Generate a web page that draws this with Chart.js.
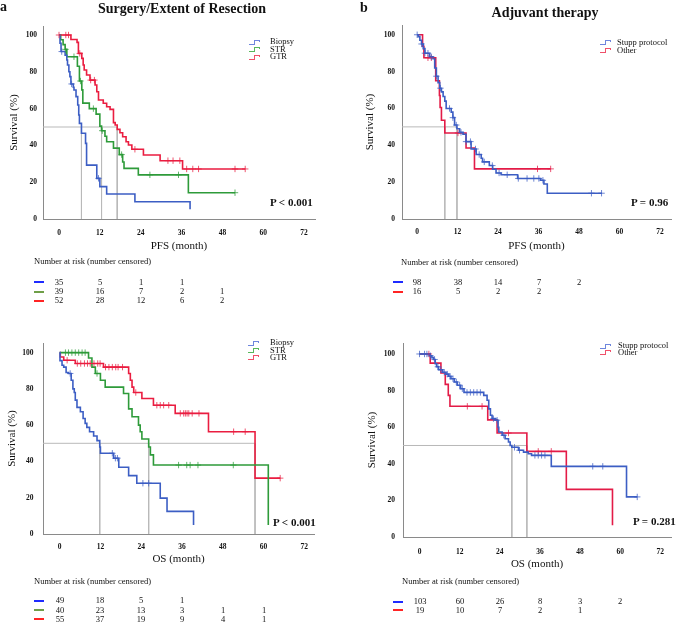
<!DOCTYPE html>
<html><head><meta charset="utf-8">
<script src="https://cdn.jsdelivr.net/npm/chart.js@4.4.1/dist/chart.umd.min.js"></script>
<style>
html,body{margin:0;padding:0;background:#fff;}
#wrap{position:relative;width:676px;height:622px;overflow:hidden;font-family:'Liberation Serif','Times New Roman',serif;color:#111;background:#fff;}
canvas{position:absolute;}
.t{position:absolute;white-space:nowrap;line-height:1;will-change:transform;-webkit-font-smoothing:antialiased;}
.seg{position:absolute;}
</style></head><body><div id="wrap"></div>
<script>
// ---------------- DATA ----------------
const xTicks = [0, 12, 24, 36, 48, 60, 72];
const yTicks = [0, 20, 40, 60, 80, 100];
const riskTimes = [0, 12, 24, 36, 48, 60];

// Panel a: PFS by extent of resection  [month, survival %]
const pfsBiopsy = [[0,100],[0.3,95.5],[0.6,91],[1.8,89],[2.3,86.4],[2.5,83.7],[2.9,80],[3.2,77.4],[3.5,73.4],[4.2,71.6],[4.4,70.1],[5.0,66.5],[5.5,62],[5.8,56.5],[6.0,52],[6.6,46.6],[7.8,41.1],[8.1,29.3],[11.1,22.1],[12.0,17.6],[14.0,13.6],[22.3,9.4],[38.5,5.3]];
const pfsBiopsyCensor = [0.8, 3.7, 11.6];
const pfsSTR = [[0,100],[0.5,97.4],[1.2,94.8],[1.8,92.2],[2.3,88.2],[5.4,83],[6.0,75],[6.7,70.2],[7.0,63],[8.9,60],[10.9,57],[12.0,50.5],[12.5,48],[13.5,45],[14.0,42],[16.0,38.5],[17.7,35],[18.7,31],[19.1,27.5],[23.3,24],[38.0,14.3],[51.7,14.3]];
const pfsSTRCensor = [1.9, 4.4, 6.3, 10.1, 12.7, 18.4, 26.7, 35.1, 51.7];
const pfsGTR = [[0,100],[3.5,97.6],[5.3,96],[5.7,90],[6.7,87.3],[7.1,83.7],[7.4,81],[8.1,78.3],[9.1,75.5],[10.6,72.8],[11.1,69.2],[11.6,64.7],[13.0,62.9],[14.0,61],[15.0,59.6],[16.0,52.4],[16.5,51.1],[17.1,48.7],[17.9,46.9],[18.7,44.7],[19.7,42],[20.4,40.2],[21.4,37.9],[24.8,34.8],[29.7,31.7],[36.3,27.2],[54.7,27.2]];
const pfsGTRCensor = [0, 2.0, 2.8, 6.1, 9.3, 10.4, 22.3, 32, 33.5, 35.5, 37.5, 39.3, 41, 51.7, 54.7];
const pfsSurgMedians = [6.6, 12.5, 17.1];
const pfsSurgRisk = [[35,5,1,1],[39,16,7,2,1],[52,28,12,6,2]];

// Panel b: PFS by adjuvant therapy
const pfsStupp = [[0,100],[0.3,99],[0.8,97],[1.3,95],[1.8,92.5],[2.3,90],[3.7,88],[4.7,87],[5.2,82],[5.7,77.5],[6.2,74],[6.7,71],[7.2,69],[7.7,66.5],[8.2,64],[8.6,60],[10.1,58],[10.6,55],[11.1,51],[11.8,49],[12.6,47],[13.6,46],[14.5,42],[16.0,38],[17.5,35],[19.0,33],[19.4,31],[21.4,29],[22.4,27],[23.4,25],[24.9,24],[29.8,22],[36.6,21],[37.6,19],[38.6,14],[54.8,14]];
const pfsStuppCensor = [0, 1.3, 2.3, 3.2, 4.2, 5.7, 6.9, 9.6, 10.6, 11.6, 13.0, 14.5, 15.8, 17.3, 18.4, 19.9, 22.3, 24.3, 26.7, 30.0, 32.6, 34.6, 36.1, 37.3, 51.7, 54.7];
const pfsOther = [[0,100],[1.6,93.75],[2.0,87.5],[5.5,75],[6.6,67],[6.8,60.5],[7.2,53.6],[8.2,46.7],[14.5,38.5],[17.0,27.2],[39.6,27.2]];
const pfsOtherCensor = [3.2, 4.2, 12.1, 35.7, 39.6];
const pfsAdjMedians = [8.2, 11.8];
const pfsAdjRisk = [[98,38,14,7,2],[16,5,2,2]];

// Panel c: OS by extent of resection
const osBiopsy = [[0,100],[0.1,95.6],[0.7,93],[1.2,92],[1.9,89],[2.6,88.5],[3.4,84.8],[3.9,80],[4.3,78],[4.6,73.8],[5.1,69.8],[6.1,67.4],[6.9,63.7],[7.5,61],[8.0,58.8],[8.8,56.4],[10.0,54],[11.0,51.5],[11.8,48],[12.0,44.5],[15.9,41.8],[17.4,36.8],[20.3,32.2],[22.7,28],[29.6,19.8],[31.6,12.5],[39.4,5]];
const osBiopsyCensor = [3.1, 15.5, 16.4, 17.0, 24.5, 26.2];
const osSTR = [[0,100],[8.5,97],[9.5,92],[10.5,88.5],[12.0,84.8],[13.4,81],[18.8,77.5],[20.3,69],[21.3,64.6],[23.2,60],[23.7,56.4],[24.2,52.4],[26.2,48],[26.7,43.6],[27.6,38],[61.4,5]];
const osSTRCensor = [1.7, 2.6, 3.6, 4.6, 5.6, 6.6, 7.5, 11, 35, 37.4, 38.4, 40.7, 51.1];
const osGTR = [[0,100],[0.2,97.6],[1.2,95.8],[4.6,94],[12.9,92],[20.3,88.5],[20.8,84.8],[21.3,81],[21.8,78],[24.2,74.7],[27.6,71],[34.0,66.5],[43.8,56.4],[57.5,30.8],[64.9,30.8]];
const osGTRCensor = [2.2, 5.2, 6.2, 7.3, 8.2, 9.0, 10.1, 11.2, 11.9, 13.5, 14.5, 15.5, 16.5, 17.2, 18.5, 22.4, 28.6, 29.6, 30.6, 32.1, 35.5, 36.5, 37.0, 37.5, 38.0, 39.0, 41.0, 51.2, 54.6, 64.9];
const osSurgMedians = [11.8, 26.2, 57.5];
const osSurgRisk = [[49,18,5,1],[40,23,13,3,1,1],[55,37,19,9,4,1]];

// Panel d: OS by adjuvant therapy
const osStupp = [[0,100],[3.0,99],[3.7,98],[4.2,97],[4.7,94.7],[5.1,93],[5.7,91.4],[6.9,90],[7.9,89],[8.7,87.8],[9.4,86.5],[10.4,84.7],[11.3,82.9],[12.3,81],[13.3,79],[19.2,77.4],[20.2,74.7],[20.7,70],[21.2,66.5],[21.7,64.7],[22.7,63.8],[23.5,60],[23.7,57.4],[24.7,55.6],[25.6,53.7],[26.6,51.9],[27.1,50],[27.6,49],[29.6,47.4],[31.1,46.4],[32.5,45.5],[33.5,44.6],[39.4,38.6],[61.9,21.9],[65.1,21.9]];
const osStuppCensor = [0, 1.5, 2.2, 3.3, 4.5, 5.5, 6.4, 7.4, 8.3, 9.1, 10.0, 11.0, 12.0, 12.8, 14.2, 15.2, 16.2, 17.2, 18.2, 22.1, 23.2, 25.2, 28.4, 29.9, 34.5, 35.5, 36.5, 37.5, 51.8, 54.8, 65.1];
const osOther = [[0,100],[3.2,95],[6.4,89.6],[7.7,83.4],[8.6,77.4],[9.1,71.4],[20.4,64],[23.2,56.8],[32.1,46.8],[43.9,26],[57.7,6.4]];
const osOtherCensor = [2.8, 14.3, 18.7, 26.6, 35.5, 39.4];
const osAdjMedians = [27.6, 32.1];
const osAdjRisk = [[103,60,26,8,3,2],[19,10,7,2,1]];

// ---------------- STYLE ----------------
const FONT = "'Liberation Serif','Times New Roman',serif";
Chart.defaults.font.family = FONT;
Chart.defaults.color = '#111';
const C = {
  blue:'#3c5ec4', green:'#2e9b3a', red:'#ea1d40', other:'#e31b47',
  blueM:'rgba(60,94,196,0.75)', greenM:'rgba(46,155,58,0.75)', redM:'rgba(234,29,64,0.75)', otherM:'rgba(227,27,71,0.75)',
  blueI:'#6e86dd', greenI:'#58b85c', redI:'#f0506a',
  blueR:'#1f2bff', greenR:'#6f9f48', redR:'#ff2424'
};
const wrap = document.getElementById('wrap');

function txt(s, x, baseline, fs, bold, align){
  const d = document.createElement('div');
  d.className = 't';
  d.textContent = s;
  d.style.fontSize = fs + 'px';
  d.style.fontWeight = bold ? 'bold' : 'normal';
  d.style.top = (baseline - 0.8375*fs) + 'px';
  if (align === 'center'){ d.style.left = x + 'px'; d.style.transform = 'translateX(-50%)'; }
  else d.style.left = x + 'px';
  wrap.appendChild(d);
}
function txtC(s, x, yc, fs, bold, align){ txt(s, x, yc + 0.33*fs, fs, bold, align); }
function seg(x, y, w, h, color){
  const d = document.createElement('div');
  d.className = 'seg';
  d.style.left = x+'px'; d.style.top = y+'px'; d.style.width = w+'px'; d.style.height = h+'px';
  d.style.background = color;
  wrap.appendChild(d);
}
function icon(x, yc, color){
  seg(x, yc+2, 5, 1, color);
  seg(x+5, yc-2, 1, 5, color);
  seg(x+5, yc-2, 6, 1, color);
  seg(x+10, yc-2, 1, 2, color);
}
function stepAt(curve, t){
  let v = curve[0][1];
  for (const [x,y] of curve){ if (x <= t) v = y; }
  return v;
}

function build(p){
  const cv = document.createElement('canvas');
  cv.width = p.w; cv.height = p.h;
  cv.style.left = p.left+'px'; cv.style.top = p.top+'px';
  cv.style.width = p.w+'px'; cv.style.height = p.h+'px';
  wrap.appendChild(cv);
  const ds = [];
  const maxMed = Math.max(...p.medians);
  const med = [{x:p.xMin,y:50},{x:maxMed,y:50},{x:maxMed,y:null}];
  p.medians.forEach(m => { med.push({x:m,y:50},{x:m,y:0},{x:m,y:null}); });
  ds.push({type:'line', data:med, borderColor:'#b9b9b9', borderWidth:1, pointRadius:0, spanGaps:false, order:10});
  p.series.forEach(s => {
    ds.push({type:'line', data:s.curve.map(([x,y])=>({x,y})), stepped:true, borderColor:s.color, borderWidth:1.6, pointRadius:0, order:2, fill:false});
    ds.push({type:'line', showLine:false, data:s.censor.map(t=>({x:t,y:stepAt(s.curve,t)})), pointStyle:'cross', pointRadius:3.2, pointBorderWidth:1, pointBorderColor:s.mark, borderColor:s.mark, order:1});
  });
  const chart = new Chart(cv, {
    type:'line',
    data:{datasets:ds},
    options:{
      responsive:false, animation:false, devicePixelRatio:1,
      layout:{padding:p.pad},
      plugins:{legend:{display:false}, tooltip:{enabled:false}},
      scales:{
        x:{type:'linear', min:p.xMin, max:p.xMax,
           afterBuildTicks: sc => { sc.ticks = xTicks.map(v=>({value:v})); },
           afterFit: sc => { sc.height = p.xH; },
           grid:{display:false, drawTicks:false},
           border:{display:true, color:'#8a8a8a', width:1},
           ticks:{font:{size:7.5, weight:'bold'}, color:'#111', padding:p.xTickPad, maxRotation:0, autoSkip:false},
           title:{display:true, text:p.xTitle, font:{size:11}, color:'#111', padding:{top:0, bottom:p.xTitlePad}}},
        y:{type:'linear', min:0, max:p.yMax,
           afterBuildTicks: sc => { sc.ticks = yTicks.map(v=>({value:v})); },
           afterFit: sc => { sc.width = p.yW; },
           grid:{display:false, drawTicks:false},
           border:{display:true, color:'#8a8a8a', width:1},
           ticks:{font:{size:7.5, weight:'bold'}, color:'#111', padding:p.yTickPad},
           title:{display:true, text:'Survival (%)', font:{size:11}, color:'#111', padding:{top:p.yTitlePad, bottom:0}}}
      }
    }
  });
  // legend
  p.series.forEach((s,i) => {
    icon(p.legIconX, p.legY[i], s.icon);
    txtC(s.name, p.legTextX, p.legY[i], 8.5, false, 'left');
  });
  // p value
  txtC(p.pval, p.pX, p.pY, 11, true, 'left');
  // risk table
  txtC('Number at risk (number censored)', p.riskLabelX, p.riskLabelY, 8.5, false, 'left');
  const sx = chart.scales.x;
  p.risk.forEach((row, r) => {
    seg(p.dashX, p.riskY[r]-1, 10, 2, p.series[r].risk);
    row.forEach((v, i) => {
      txtC(String(v), p.left + sx.getPixelForValue(riskTimes[i]), p.riskY[r], 8.5, false, 'center');
    });
  });
  return chart;
}

const surgSeries = (b,g,r,bc,gc,rc) => [
  {name:'Biopsy', curve:b, censor:bc, color:C.blue, mark:C.blueM, icon:C.blueI, risk:C.blueR},
  {name:'STR', curve:g, censor:gc, color:C.green, mark:C.greenM, icon:C.greenI, risk:C.greenR},
  {name:'GTR', curve:r, censor:rc, color:C.red, mark:C.redM, icon:C.redI, risk:C.redR}
];
const adjSeries = (s,o,sc,oc) => [
  {name:'Stupp protocol', curve:s, censor:sc, color:C.blue, mark:C.blueM, icon:C.blueI, risk:C.blueR},
  {name:'Other', curve:o, censor:oc, color:C.other, mark:C.otherM, icon:C.redI, risk:C.redR}
];

build({left:0, top:0, w:338, h:256, pad:{left:3, top:26, right:23, bottom:0}, yW:40, xH:37,
  xMin:-4.7, xMax:75.2, yMax:104.9, yTitlePad:5, yTickPad:6, xTickPad:9.5, xTitlePad:3.4, xTitle:'PFS (month)',
  series:surgSeries(pfsBiopsy,pfsSTR,pfsGTR,pfsBiopsyCensor,pfsSTRCensor,pfsGTRCensor), medians:pfsSurgMedians,
  legIconX:249, legTextX:270, legY:[41.7,49.3,56.7], pval:'P < 0.001', pX:270, pY:203,
  riskLabelX:34, riskLabelY:261.7, riskY:[282.3,291.7,300.7], dashX:34, risk:pfsSurgRisk});

build({left:338, top:0, w:338, h:256, pad:{left:20, top:25, right:3, bottom:0}, yW:44, xH:37,
  xMin:-4.5, xMax:75.3, yMax:105.3, yTitlePad:6, yTickPad:7, xTickPad:8.5, xTitlePad:3.4, xTitle:'PFS (month)',
  series:adjSeries(pfsStupp,pfsOther,pfsStuppCensor,pfsOtherCensor), medians:pfsAdjMedians,
  legIconX:600, legTextX:617, legY:[42.3,50], pval:'P = 0.96', pX:631, pY:202.7,
  riskLabelX:401, riskLabelY:262, riskY:[282.3,291.7], dashX:393, risk:pfsAdjRisk});

build({left:0, top:320, w:338, h:249, pad:{left:0.5, top:23, right:24, bottom:0}, yW:42.5, xH:35,
  xMin:-4.9, xMax:74.85, yMax:105.3, yTitlePad:5, yTickPad:9.5, xTickPad:8.5, xTitlePad:3.1, xTitle:'OS (month)',
  series:surgSeries(osBiopsy,osSTR,osGTR,osBiopsyCensor,osSTRCensor,osGTRCensor), medians:osSurgMedians,
  legIconX:248, legTextX:270, legY:[342.7,350,357.3], pval:'P < 0.001', pX:273, pY:522.3,
  riskLabelX:34, riskLabelY:581.7, riskY:[600.7,610,619], dashX:34, risk:osSurgRisk});

build({left:338, top:320, w:338, h:254, pad:{left:22.5, top:23, right:2, bottom:0}, yW:42.5, xH:37,
  xMin:-4.94, xMax:75.2, yMax:106, yTitlePad:5, yTickPad:8, xTickPad:10.5, xTitlePad:3.4, xTitle:'OS (month)',
  series:adjSeries(osStupp,osOther,osStuppCensor,osOtherCensor), medians:osAdjMedians,
  legIconX:600, legTextX:617.7, legY:[345.7,352.3], pval:'P = 0.281', pX:633, pY:522,
  riskLabelX:401.7, riskLabelY:581.7, riskY:[601.7,610], dashX:393, risk:osAdjRisk});

// panel letters and titles
txt('a', 0, 11.7, 14, true, 'left');
txt('Surgery/Extent of Resection', 182, 13.3, 14, true, 'center');
txt('b', 360, 12.7, 14, true, 'left');
txt('Adjuvant therapy', 545, 17.3, 14, true, 'center');
</script>
</body></html>
